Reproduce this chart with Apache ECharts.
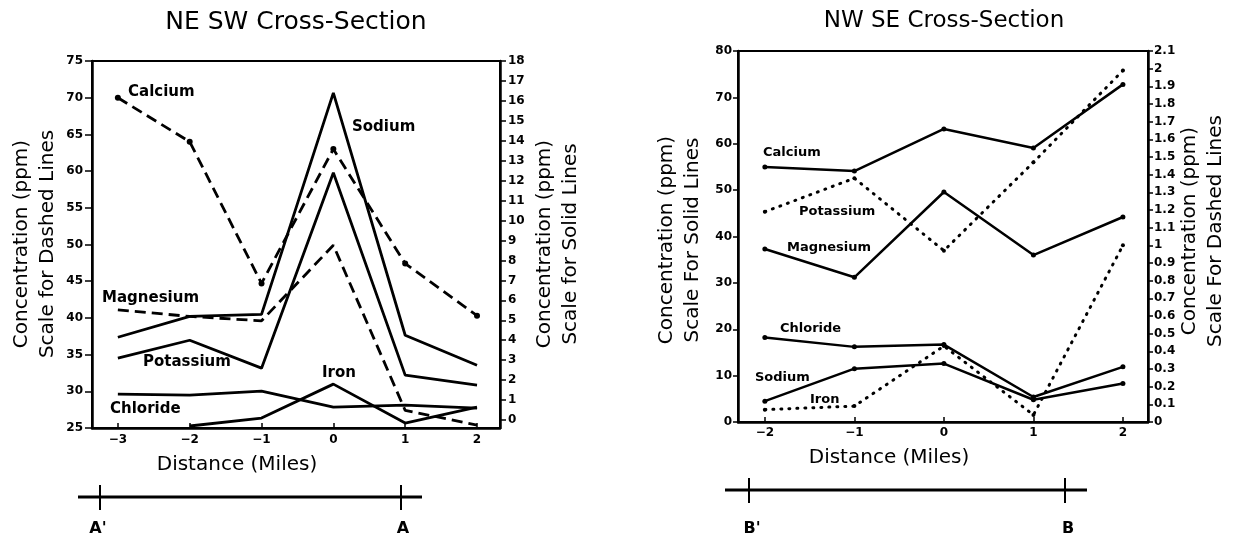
<!DOCTYPE html>
<html>
<head>
<meta charset="utf-8">
<script src="https://cdn.jsdelivr.net/npm/echarts@6/dist/echarts.min.js"></script>
<style>
html,body{margin:0;padding:0;background:#fff;}
#chart{width:1233px;height:540px;}
</style>
</head>
<body>
<div id="chart"></div>
<script>
// ---------- NE SW cross-section (left panel) ----------
var distNE = [-3, -2, -1, 0, 1, 2];
// dashed lines, left scale (25-75)
var calciumNE   = [70, 64, 44.7, 63, 47.4, 40.3];
var magnesiumNE = [41.1, 40.2, 39.6, 49.9, 27.4, 25.4];
// solid lines, right scale (0-18)
var sodiumNE    = [4.15, 5.2, 5.3, 16.4, 4.25, 2.75];
var potassiumNE = [3.1, 4.0, 2.6, 12.4, 2.25, 1.75];
var chlorideNE  = [1.3, 1.25, 1.45, 0.65, 0.75, 0.6];
var ironNE      = [null, -0.3, 0.1, 1.8, -0.15, 0.65];
var ticksNE_x = [-3, -2, -1, 0, 1, 2];
var ticksNE_right = [0,1,2,3,4,5,6,7,8,9,10,11,12,13,14,15,16,17,18];

// ---------- NW SE cross-section (right panel) ----------
var distNW = [-2, -1, 0, 1, 2];
// solid lines, left scale (0-80)
var calciumNW   = [55.0, 54.1, 63.2, 59.1, 72.8];
var magnesiumNW = [37.3, 31.2, 49.6, 36.0, 44.2];
var chlorideNW  = [18.2, 16.2, 16.7, 5.4, 11.9];
var sodiumNW    = [4.5, 11.5, 12.6, 4.8, 8.3];
// dotted lines, right scale (0-2.1)
var potassiumNW = [1.19, 1.38, 0.97, 1.47, 1.99];
var ironNW      = [0.07, 0.09, 0.43, 0.04, 1.0];
var ticksNW_x = [-2, -1, 0, 1, 2];

function pairs(xs, ys) { return xs.map(function (x, i) { return [x, ys[i]]; }); }
function fmtX(v) { return v < 0 ? '\u2212' + (-v) : String(v); }

var FONT = 'DejaVu Sans';
var tickLbl = { color: '#000', fontFamily: FONT, fontWeight: 'bold', fontSize: 12 };

var chart = echarts.init(document.getElementById('chart'), null, { renderer: 'canvas' });

function dashedNE(name, data) {
  return { name: name, type: 'line', xAxisIndex: 0, yAxisIndex: 0, data: data,
    lineStyle: { color: '#000', width: 2.8, type: [11, 6] }, itemStyle: { color: '#000' },
    symbol: 'circle', symbolSize: 0.1, showSymbol: false, animation: false, z: 3 };
}
function solidNE(name, data) {
  return { name: name, type: 'line', xAxisIndex: 0, yAxisIndex: 1, data: data,
    lineStyle: { color: '#000', width: 2.8 }, itemStyle: { color: '#000' },
    symbol: 'none', animation: false, z: 3 };
}
function solidNW(name, data) {
  return { name: name, type: 'line', xAxisIndex: 1, yAxisIndex: 2, data: data,
    lineStyle: { color: '#000', width: 2.5 }, itemStyle: { color: '#000' },
    symbol: 'circle', symbolSize: 5, animation: false, z: 3 };
}
function dottedNW(name, data) {
  return { name: name, type: 'line', xAxisIndex: 1, yAxisIndex: 3, data: data,
    lineStyle: { color: '#000', width: 3, type: [1, 7], cap: 'round' }, itemStyle: { color: '#000' },
    symbol: 'circle', symbolSize: 4, animation: false, z: 3 };
}

var calSeries = dashedNE('Calcium', pairs(distNE, calciumNE));
calSeries.showSymbol = true; calSeries.symbolSize = 6;

function txt(x, y, s, size, extra) {
  var st = { x: x, y: y, text: s, fill: '#000', font: (extra && extra.weight ? extra.weight + ' ' : 'bold ') + size + 'px "' + FONT + '"',
    textAlign: (extra && extra.align) || 'left', textVerticalAlign: 'middle' };
  return { type: 'text', style: st, z: 10 };
}
function rtxt(x, y, s, size) {
  return { type: 'text', x: x, y: y, rotation: Math.PI / 2, z: 10,
    style: { x: 0, y: 0, text: s, fill: '#000', font: 'normal ' + size + 'px "' + FONT + '"',
      textAlign: 'center', textVerticalAlign: 'middle', lineHeight: 26 } };
}
function ln(x1, y1, x2, y2, w) {
  return { type: 'line', shape: { x1: x1, y1: y1, x2: x2, y2: y2 }, style: { stroke: '#000', lineWidth: w }, z: 10 };
}

var option = {
  backgroundColor: '#fff',
  animation: false,
  grid: [
    { left: 92, top: 61, width: 408, height: 367, show: true, borderColor: '#000', borderWidth: 2, backgroundColor: 'transparent' },
    { left: 738, top: 51, width: 410, height: 371, show: true, borderColor: '#000', borderWidth: 2, backgroundColor: 'transparent' }
  ],
  xAxis: [
    { type: 'value', gridIndex: 0, min: -3.36, max: 2.32,
      axisLine: { show: true, onZero: false, lineStyle: { color: '#000', width: 2.5 } },
      axisTick: { show: true, inside: true, length: 5, customValues: ticksNE_x, lineStyle: { color: '#000', width: 1.5 } },
      axisLabel: Object.assign({ margin: 6, customValues: ticksNE_x, formatter: fmtX }, tickLbl),
      splitLine: { show: false } },
    { type: 'value', gridIndex: 1, min: -2.3, max: 2.28,
      axisLine: { show: true, onZero: false, lineStyle: { color: '#000', width: 2.5 } },
      axisTick: { show: true, inside: true, length: 5, customValues: ticksNW_x, lineStyle: { color: '#000', width: 1.5 } },
      axisLabel: Object.assign({ margin: 5, customValues: ticksNW_x, formatter: fmtX }, tickLbl),
      splitLine: { show: false } }
  ],
  yAxis: [
    { type: 'value', gridIndex: 0, position: 'left', min: 25, max: 75, interval: 5,
      axisLine: { show: true, onZero: false, lineStyle: { color: '#000', width: 2.5 } },
      axisTick: { show: true, length: 7, lineStyle: { color: '#000', width: 1.5 } },
      axisLabel: Object.assign({ margin: 9 }, tickLbl), splitLine: { show: false } },
    { type: 'value', gridIndex: 0, position: 'right', min: -0.4, max: 18,
      axisLine: { show: true, onZero: false, lineStyle: { color: '#000', width: 2.5 } },
      axisTick: { show: true, length: 6, customValues: ticksNE_right, lineStyle: { color: '#000', width: 1.5 } },
      axisLabel: Object.assign({ margin: 8, customValues: ticksNE_right }, tickLbl), splitLine: { show: false } },
    { type: 'value', gridIndex: 1, position: 'left', min: 0, max: 80, interval: 10,
      axisLine: { show: true, onZero: false, lineStyle: { color: '#000', width: 2.5 } },
      axisTick: { show: true, length: 5, lineStyle: { color: '#000', width: 1.5 } },
      axisLabel: Object.assign({ margin: 6 }, tickLbl), splitLine: { show: false } },
    { type: 'value', gridIndex: 1, position: 'right', min: 0, max: 2.1, interval: 0.1,
      axisLine: { show: true, onZero: false, lineStyle: { color: '#000', width: 2.5 } },
      axisTick: { show: true, length: 5, lineStyle: { color: '#000', width: 1.5 } },
      axisLabel: Object.assign({ margin: 6, formatter: function (v) { return String(+v.toFixed(1)); } }, tickLbl),
      splitLine: { show: false } }
  ],
  series: [
    calSeries,
    dashedNE('Magnesium', pairs(distNE, magnesiumNE)),
    solidNE('Sodium', pairs(distNE, sodiumNE)),
    solidNE('Potassium', pairs(distNE, potassiumNE)),
    solidNE('Chloride', pairs(distNE, chlorideNE)),
    solidNE('Iron', pairs(distNE, ironNE)),
    solidNW('Calcium', pairs(distNW, calciumNW)),
    solidNW('Magnesium', pairs(distNW, magnesiumNW)),
    solidNW('Chloride', pairs(distNW, chlorideNW)),
    solidNW('Sodium', pairs(distNW, sodiumNW)),
    dottedNW('Potassium', pairs(distNW, potassiumNW)),
    dottedNW('Iron', pairs(distNW, ironNW))
  ],
  graphic: [
    // titles
    txt(296, 22, 'NE SW Cross-Section', 25, { weight: 'normal', align: 'center' }),
    txt(944, 21, 'NW SE Cross-Section', 23, { weight: 'normal', align: 'center' }),
    // axis names
    rtxt(35, 244, 'Concentration (ppm)\nScale for Dashed Lines', 20),
    rtxt(558, 244, 'Concentration (ppm)\nScale for Solid Lines', 20),
    rtxt(680, 240, 'Concentration (ppm)\nScale For Solid Lines', 20),
    rtxt(1203, 231, 'Concentration (ppm)\nScale For Dashed Lines', 20),
    txt(237, 465, 'Distance (Miles)', 20, { weight: 'normal', align: 'center' }),
    txt(889, 458, 'Distance (Miles)', 20, { weight: 'normal', align: 'center' }),
    // series labels, left panel
    txt(128, 92, 'Calcium', 15),
    txt(352, 127, 'Sodium', 15),
    txt(102, 298, 'Magnesium', 15),
    txt(143, 362, 'Potassium', 15),
    txt(110, 409, 'Chloride', 15),
    txt(322, 373, 'Iron', 15),
    // series labels, right panel
    txt(763, 153, 'Calcium', 13),
    txt(799, 212, 'Potassium', 13),
    txt(787, 248, 'Magnesium', 13),
    txt(780, 329, 'Chloride', 13),
    txt(755, 378, 'Sodium', 13),
    txt(810, 400, 'Iron', 13),
    // section lines
    ln(78, 497, 422, 497, 3), ln(100, 485, 100, 510, 2), ln(401, 485, 401, 510, 2),
    txt(98, 529, "A'", 16, { align: 'center' }), txt(403, 529, 'A', 16, { align: 'center' }),
    ln(725, 490, 1087, 490, 3), ln(749, 478, 749, 503, 2), ln(1065, 478, 1065, 503, 2),
    txt(752, 529, "B'", 16, { align: 'center' }), txt(1068, 529, 'B', 16, { align: 'center' })
  ]
};
chart.setOption(option);
</script>
</body>
</html>
